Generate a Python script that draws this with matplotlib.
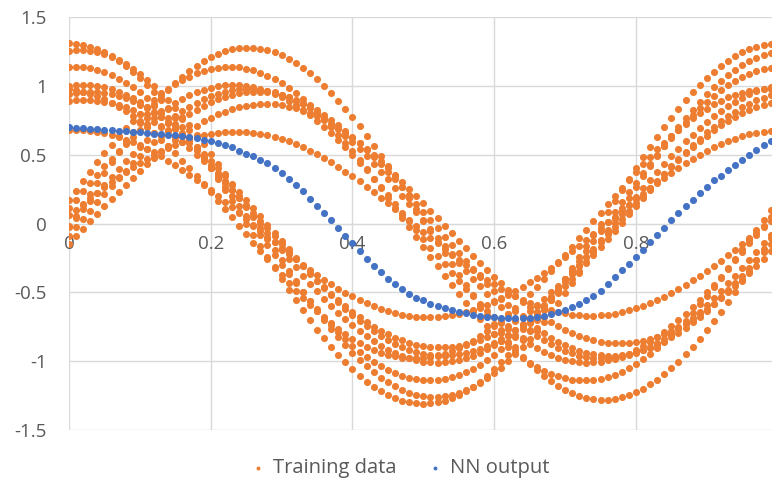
import numpy as np
import matplotlib
matplotlib.use("Agg")
import matplotlib.pyplot as plt

# x grid shared by all series (step 0.01)
x_vals = [i / 100 for i in range(100)]

# training data: two families of waves, amplitude / phase
sin_amp = [1.28, 1.14, 1.01, 0.98, 0.96, 0.87, 0.67]
sin_phase = [-0.02, 0.15, 0.11, -0.02, -0.09, -0.17, 0.09]
cos_amp = [1.31, 1.26, 1.14, 1.01, 0.98, 0.96, 0.90, 0.68]
cos_phase = [0.0, -0.10, -0.05, -0.12, 0.08, -0.18, -0.15, -0.05]

# NN output, one value per x step
nn_output = [
    0.700, 0.698, 0.695, 0.691, 0.687, 0.683, 0.679, 0.675, 0.671, 0.667,
    0.663, 0.659, 0.655, 0.651, 0.646, 0.641, 0.635, 0.628, 0.620, 0.611,
    0.600, 0.588, 0.574, 0.557, 0.530, 0.509, 0.489, 0.465, 0.440, 0.406,
    0.367, 0.323, 0.282, 0.236, 0.182, 0.129, 0.080, 0.027, -0.031, -0.088,
    -0.141, -0.198, -0.255, -0.307, -0.355, -0.404, -0.440, -0.477, -0.513, -0.538,
    -0.557, -0.586, -0.600, -0.615, -0.628, -0.640, -0.652, -0.664, -0.672, -0.677,
    -0.681, -0.684, -0.686, -0.689, -0.689, -0.684, -0.677, -0.672, -0.660, -0.645,
    -0.625, -0.606, -0.582, -0.557, -0.525, -0.490, -0.440, -0.385, -0.340, -0.296,
    -0.245, -0.192, -0.136, -0.083, -0.031, 0.027, 0.078, 0.126, 0.175, 0.226,
    0.270, 0.314, 0.350, 0.390, 0.430, 0.465, 0.500, 0.533, 0.570, 0.600,
]

x_ticks = [0, 0.2, 0.4, 0.6, 0.8]
x_labels = ["0", "0.2", "0.4", "0.6", "0.8"]
y_ticks = [-1.5, -1, -0.5, 0, 0.5, 1, 1.5]
y_labels = ["-1.5", "-1", "-0.5", "0", "0.5", "1", "1.5"]

plt.rcParams["font.family"] = ["Open Sans", "DejaVu Sans"]

x = np.array(x_vals)
train_x = []
train_y = []
for a, p in zip(sin_amp, sin_phase):
    train_x.extend(x)
    train_y.extend(a * np.sin(2 * np.pi * x + p))
for a, p in zip(cos_amp, cos_phase):
    train_x.extend(x)
    train_y.extend(a * np.cos(2 * np.pi * x + p))

fig = plt.figure(figsize=(7.72, 4.82), dpi=100)
ax = fig.add_axes([0.0894, 0.108, 0.918, 0.856])

ax.scatter(train_x, train_y, s=26, c="#ED7D31", linewidths=0, label="Training data", zorder=3)
ax.scatter(x_vals, nn_output, s=26, c="#4472C4", linewidths=0, label="NN output", zorder=4)

ax.set_xlim(0, 1)
ax.set_ylim(-1.5, 1.5)
ax.set_xticks([0, 0.2, 0.4, 0.6, 0.8, 1.0], minor=True)
ax.set_xticks(x_ticks)
ax.set_xticklabels(x_labels)
ax.set_yticks(y_ticks)
ax.set_yticklabels(y_labels)
ax.grid(True, which="both", color="#d9d9d9", linewidth=1)
ax.set_axisbelow(True)

for s in ["top", "right", "left"]:
    ax.spines[s].set_visible(False)
ax.spines["bottom"].set_position(("data", 0))
ax.spines["bottom"].set_color("#d9d9d9")
ax.tick_params(axis="both", which="both", length=0, labelsize=13.5, labelcolor="#595959")
ax.tick_params(axis="x", pad=8)
ax.tick_params(axis="y", pad=16)

fig.legend(loc="lower center", bbox_to_anchor=(0.518, -0.03), ncol=2, frameon=False,
           fontsize=14.5, labelcolor="#595959", markerscale=0.55, handlelength=0.8,
           handletextpad=0.35, columnspacing=1.5)

fig.savefig("out.png", dpi=100)
